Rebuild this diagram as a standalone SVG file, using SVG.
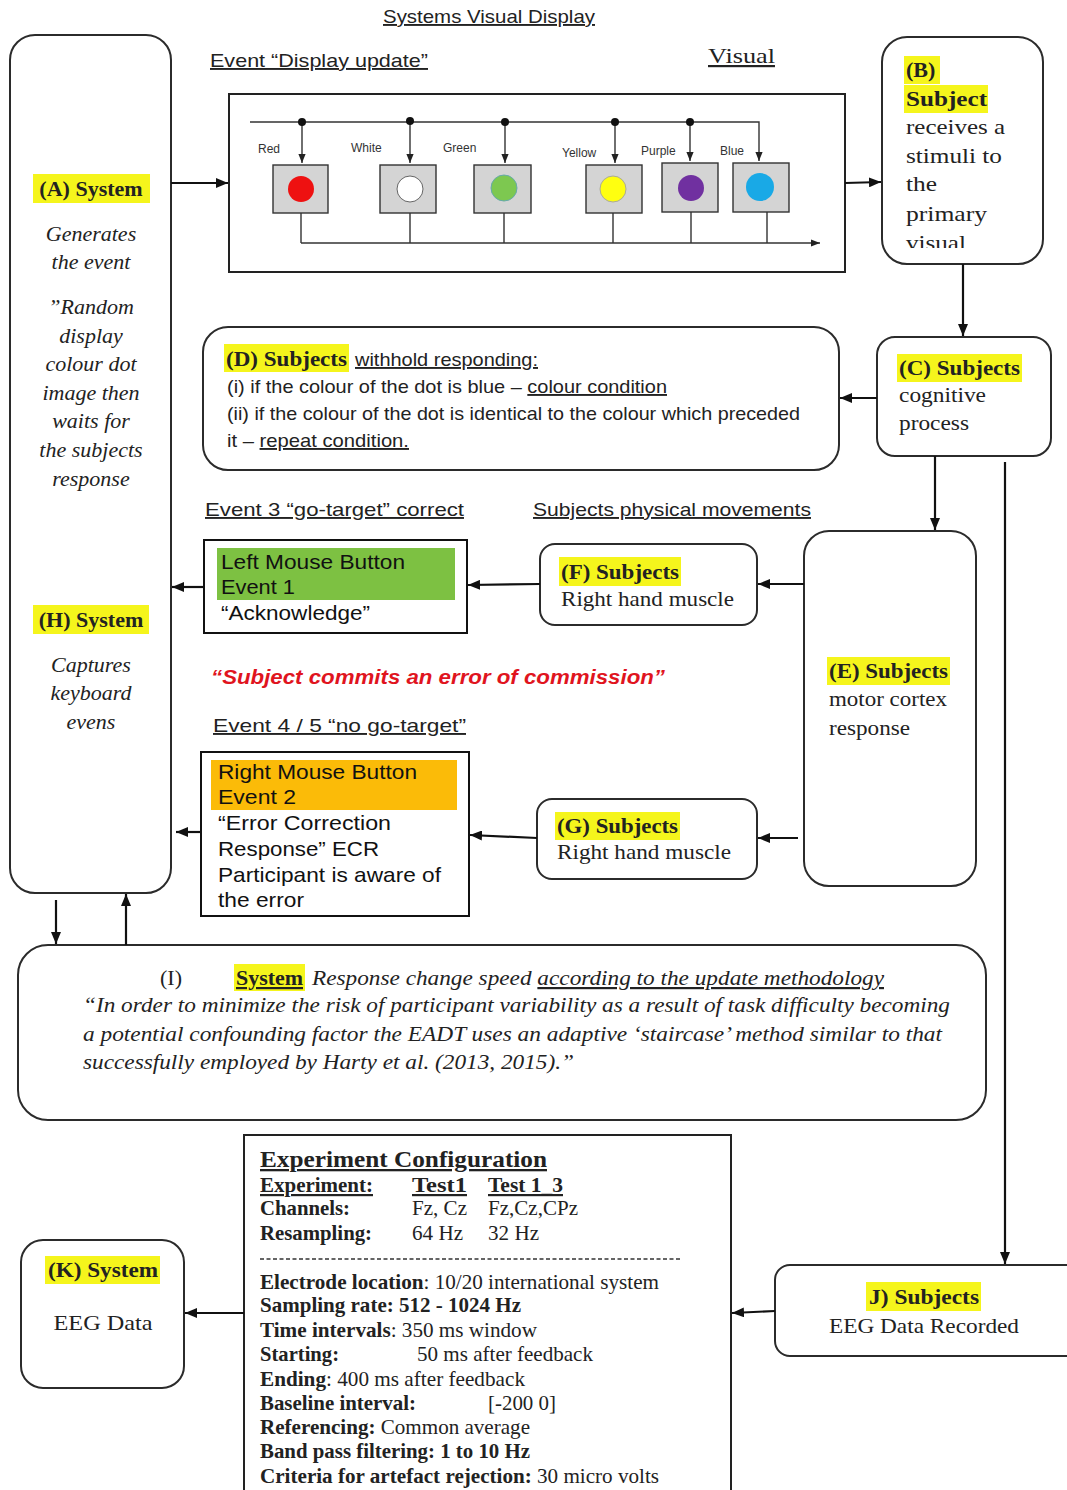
<svg xmlns="http://www.w3.org/2000/svg" width="1067" height="1490" viewBox="0 0 1067 1490">
<style>
.box{fill:#fff;stroke:#2b2b2b;stroke-width:2}
.con{fill:none;stroke:#111;stroke-width:2.2}
.thin{fill:none;stroke:#333;stroke-width:1.4}
.cal{font-family:"Liberation Sans",Arial,sans-serif;font-size:19px;fill:#222}
.ari{font-family:"Liberation Sans",Arial,sans-serif;font-size:21px;fill:#111}
.ser{font-family:"Liberation Serif","Times New Roman",serif;font-size:22px;fill:#222}
.b{font-weight:bold}
.it{font-style:italic}
.u{text-decoration:underline}
.hl{fill:#f5f51c}
.lab{font-family:"Liberation Sans",Arial,sans-serif;font-size:12px;fill:#333}
.cell{fill:#d4d4d4;stroke:#333;stroke-width:1.4}
</style>
<defs>
<marker id="ah" viewBox="0 0 12 10" refX="12" refY="5" markerWidth="12" markerHeight="10" markerUnits="userSpaceOnUse" orient="auto"><path d="M0,0 L12,5 L0,10 z" fill="#111"/></marker>
<marker id="sm" viewBox="0 0 10 8" refX="10" refY="4" markerWidth="9" markerHeight="8" markerUnits="userSpaceOnUse" orient="auto"><path d="M0,0 L10,4 L0,8 z" fill="#222"/></marker>
<clipPath id="clipB"><rect x="883" y="38" width="159" height="210"/></clipPath>
</defs>

<text class="cal u" x="383" y="23" textLength="212" lengthAdjust="spacingAndGlyphs">Systems Visual Display</text>
<text class="cal u" x="210" y="67" textLength="218" lengthAdjust="spacingAndGlyphs">Event “Display update”</text>
<text class="ser u" x="708" y="63" font-size="23" textLength="67" lengthAdjust="spacingAndGlyphs">Visual</text>

<g id="nodeA">
<rect class="box" x="10" y="35" width="161" height="858" rx="25"/>
<rect class="hl" x="33" y="174" width="117" height="29"/>
<text class="ser b" x="91" y="196" text-anchor="middle">(A) System</text>
<g class="ser it" text-anchor="middle" fill="#333" font-size="23">
<text x="91" y="241">Generates</text>
<text x="91" y="269">the event</text>
<text x="91" y="314">”Random</text>
<text x="91" y="343">display</text>
<text x="91" y="371">colour dot</text>
<text x="91" y="400">image then</text>
<text x="91" y="428">waits for</text>
<text x="91" y="457">the subjects</text>
<text x="91" y="486">response</text>
</g>
<rect class="hl" x="33" y="605" width="116" height="29"/>
<text class="ser b" x="91" y="627" text-anchor="middle">(H) System</text>
<g class="ser it" text-anchor="middle" fill="#333" font-size="23">
<text x="91" y="672">Captures</text>
<text x="91" y="700">keyboard</text>
<text x="91" y="729">evens</text>
</g>
</g>

<g id="display">
<rect x="229" y="94" width="616" height="178" fill="#fff" stroke="#222" stroke-width="2"/>
<path class="thin" d="M250,122 H759 V161" marker-end="url(#sm)"/>
<path class="thin" d="M302,122 V163" marker-end="url(#sm)"/>
<path class="thin" d="M410,121 V163" marker-end="url(#sm)"/>
<path class="thin" d="M505,122 V163" marker-end="url(#sm)"/>
<path class="thin" d="M615,122 V163" marker-end="url(#sm)"/>
<path class="thin" d="M690,122 V161" marker-end="url(#sm)"/>
<g fill="#111"><circle cx="302" cy="122" r="4"/><circle cx="410" cy="121" r="4"/><circle cx="505" cy="122" r="4"/><circle cx="615" cy="122" r="4"/><circle cx="690" cy="122" r="4"/></g>
<rect class="cell" x="273" y="165" width="55" height="48"/>
<rect class="cell" x="380" y="165" width="56" height="48"/>
<rect class="cell" x="474" y="165" width="57" height="48"/>
<rect class="cell" x="586" y="165" width="56" height="48"/>
<rect class="cell" x="662" y="163" width="56" height="49"/>
<rect class="cell" x="733" y="163" width="56" height="49"/>
<ellipse cx="301" cy="189" rx="13" ry="13" fill="#ee1111"/>
<ellipse cx="410" cy="189" rx="13" ry="13" fill="#fff" stroke="#666"/>
<ellipse cx="504" cy="188" rx="13" ry="13" fill="#7dc850" stroke="#6aa"/>
<ellipse cx="613" cy="189" rx="13" ry="13" fill="#ffff10" stroke="#aa9"/>
<ellipse cx="691" cy="188" rx="13" ry="13" fill="#7030a0"/>
<ellipse cx="760" cy="187" rx="14" ry="14" fill="#19a9e6"/>
<path class="thin" d="M301,213 V243 M410,213 V243 M504,213 V243 M613,213 V243 M691,212 V243 M767,212 V243"/>
<path class="thin" d="M301,243 H820" marker-end="url(#sm)"/>
<text class="lab" x="258" y="153">Red</text>
<text class="lab" x="351" y="152">White</text>
<text class="lab" x="443" y="152">Green</text>
<text class="lab" x="562" y="157">Yellow</text>
<text class="lab" x="641" y="155">Purple</text>
<text class="lab" x="720" y="155">Blue</text>
</g>

<g id="nodeB">
<rect class="box" x="882" y="37" width="161" height="227" rx="25"/>
<rect class="hl" x="904" y="56" width="36" height="28"/>
<rect class="hl" x="904" y="85" width="84" height="28"/>
<g class="ser" clip-path="url(#clipB)" font-size="24">
<text class="b" x="906" y="77" font-size="22">(B)</text>
<text class="b" x="906" y="106" font-size="22" textLength="81" lengthAdjust="spacingAndGlyphs">Subject</text>
<text x="906" y="134" textLength="99" lengthAdjust="spacingAndGlyphs">receives a</text>
<text x="906" y="163" textLength="96" lengthAdjust="spacingAndGlyphs">stimuli to</text>
<text x="906" y="191" textLength="31" lengthAdjust="spacingAndGlyphs">the</text>
<text x="906" y="221" textLength="81" lengthAdjust="spacingAndGlyphs">primary</text>
<text x="906" y="250" textLength="60" lengthAdjust="spacingAndGlyphs">visual</text>
</g>
</g>

<g id="nodeC">
<rect class="box" x="877" y="337" width="174" height="119" rx="18"/>
<rect class="hl" x="897" y="354" width="125" height="28"/>
<text class="ser b" x="899" y="375" textLength="121" lengthAdjust="spacingAndGlyphs">(C) Subjects</text>
<text class="ser" x="899" y="402" textLength="87" lengthAdjust="spacingAndGlyphs">cognitive</text>
<text class="ser" x="899" y="430" textLength="70" lengthAdjust="spacingAndGlyphs">process</text>
</g>

<g id="nodeD">
<rect class="box" x="203" y="327" width="636" height="143" rx="25"/>
<rect class="hl" x="224" y="344" width="125" height="28"/>
<text class="ser b" x="226" y="366" textLength="121" lengthAdjust="spacingAndGlyphs">(D) Subjects</text>
<text class="cal u" x="355" y="366" textLength="183" lengthAdjust="spacingAndGlyphs">withhold responding:</text>
<text class="cal" x="227" y="393" font-size="18" textLength="440" lengthAdjust="spacingAndGlyphs">(i) if the colour of the dot is blue – <tspan class="u">colour condition</tspan></text>
<text class="cal" x="227" y="420" font-size="18" textLength="573" lengthAdjust="spacingAndGlyphs">(ii) if the colour of the dot is identical to the colour which preceded</text>
<text class="cal" x="227" y="447" font-size="18" textLength="182" lengthAdjust="spacingAndGlyphs">it – <tspan class="u">repeat condition.</tspan></text>
</g>

<text class="cal u" x="205" y="516" textLength="259" lengthAdjust="spacingAndGlyphs">Event 3 “go-target” correct</text>
<text class="cal u" x="533" y="516" textLength="278" lengthAdjust="spacingAndGlyphs">Subjects physical movements</text>

<g id="nodeLMB">
<rect x="204" y="540" width="263" height="93" fill="#fff" stroke="#111" stroke-width="2"/>
<rect x="217" y="548" width="238" height="52" fill="#7dc142"/>
<text class="ari" x="221" y="569" textLength="184" lengthAdjust="spacingAndGlyphs">Left Mouse Button</text>
<text class="ari" x="221" y="594" textLength="74" lengthAdjust="spacingAndGlyphs">Event 1</text>
<text class="ari" x="221" y="620" textLength="149" lengthAdjust="spacingAndGlyphs">“Acknowledge”</text>
</g>

<g id="nodeF">
<rect class="box" x="540" y="544" width="217" height="81" rx="15"/>
<rect class="hl" x="559" y="557" width="122" height="29"/>
<text class="ser b" x="561" y="579" textLength="118" lengthAdjust="spacingAndGlyphs">(F) Subjects</text>
<text class="ser" x="561" y="606" textLength="173" lengthAdjust="spacingAndGlyphs">Right hand muscle</text>
</g>

<g id="nodeE">
<rect class="box" x="804" y="531" width="172" height="355" rx="25"/>
<rect class="hl" x="827" y="657" width="123" height="28"/>
<text class="ser b" x="829" y="678" textLength="119" lengthAdjust="spacingAndGlyphs">(E) Subjects</text>
<text class="ser" x="829" y="706" textLength="118" lengthAdjust="spacingAndGlyphs">motor cortex</text>
<text class="ser" x="829" y="735" textLength="81" lengthAdjust="spacingAndGlyphs">response</text>
</g>

<text x="211" y="684" font-family="Liberation Sans,Arial,sans-serif" font-size="20" font-weight="bold" font-style="italic" fill="#e0141e" textLength="454" lengthAdjust="spacingAndGlyphs">“Subject commits an error of commission”</text>
<text class="cal u" x="213" y="732" textLength="253" lengthAdjust="spacingAndGlyphs">Event 4 / 5  “no go-target”</text>

<g id="nodeRMB">
<rect x="201" y="752" width="268" height="164" fill="#fff" stroke="#111" stroke-width="2"/>
<rect x="211" y="760" width="246" height="50" fill="#fbbb08"/>
<text class="ari" x="218" y="779" textLength="199" lengthAdjust="spacingAndGlyphs">Right Mouse Button</text>
<text class="ari" x="218" y="804" textLength="78" lengthAdjust="spacingAndGlyphs">Event 2</text>
<text class="ari" x="218" y="830" textLength="173" lengthAdjust="spacingAndGlyphs">“Error Correction</text>
<text class="ari" x="218" y="856" textLength="161" lengthAdjust="spacingAndGlyphs">Response” ECR</text>
<text class="ari" x="218" y="882" textLength="223" lengthAdjust="spacingAndGlyphs">Participant is aware of</text>
<text class="ari" x="218" y="907" textLength="86" lengthAdjust="spacingAndGlyphs">the error</text>
</g>

<g id="nodeG">
<rect class="box" x="537" y="799" width="220" height="80" rx="15"/>
<rect class="hl" x="555" y="812" width="125" height="28"/>
<text class="ser b" x="557" y="833" textLength="121" lengthAdjust="spacingAndGlyphs">(G) Subjects</text>
<text class="ser" x="557" y="859" textLength="174" lengthAdjust="spacingAndGlyphs">Right hand muscle</text>
</g>

<g id="nodeI">
<rect class="box" x="18" y="945" width="968" height="175" rx="30"/>
<text class="ser" x="160" y="985">(I)</text>
<rect class="hl" x="234" y="964" width="71" height="27"/>
<text class="ser b u" x="236" y="985" textLength="67" lengthAdjust="spacingAndGlyphs">System</text>
<text class="ser it" x="312" y="985" textLength="572" lengthAdjust="spacingAndGlyphs">Response change speed <tspan class="u">according to the update methodology</tspan></text>
<text class="ser it" x="83" y="1012" textLength="867" lengthAdjust="spacingAndGlyphs">“In order to minimize the risk of participant variability as a result of task difficulty becoming</text>
<text class="ser it" x="83" y="1041" textLength="859" lengthAdjust="spacingAndGlyphs">a potential confounding factor the EADT uses an adaptive ‘staircase’ method similar to that</text>
<text class="ser it" x="83" y="1069" textLength="491" lengthAdjust="spacingAndGlyphs">successfully employed by Harty et al. (2013, 2015).”</text>
</g>

<g id="nodeConfig" class="ser" font-size="19">
<rect x="244" y="1135" width="487" height="365" fill="#fff" stroke="#222" stroke-width="2"/>
<text class="b u" x="260" y="1167" font-size="23" textLength="287" lengthAdjust="spacingAndGlyphs">Experiment Configuration </text>
<text class="b u" x="260" y="1192" textLength="113" lengthAdjust="spacingAndGlyphs">Experiment:</text>
<text class="b u" x="412" y="1192" textLength="55" lengthAdjust="spacingAndGlyphs">Test1</text>
<text class="b u" x="488" y="1192" textLength="75" lengthAdjust="spacingAndGlyphs">Test 1_3</text>
<text class="b" x="260" y="1215" textLength="90" lengthAdjust="spacingAndGlyphs">Channels:</text>
<text x="412" y="1215" textLength="55" lengthAdjust="spacingAndGlyphs">Fz, Cz</text>
<text x="488" y="1215" textLength="90" lengthAdjust="spacingAndGlyphs">Fz,Cz,CPz</text>
<text class="b" x="260" y="1240" textLength="112" lengthAdjust="spacingAndGlyphs">Resampling:</text>
<text x="412" y="1240" textLength="51" lengthAdjust="spacingAndGlyphs">64 Hz</text>
<text x="488" y="1240" textLength="51" lengthAdjust="spacingAndGlyphs">32 Hz</text>
<line x1="260" y1="1259" x2="680" y2="1259" stroke="#333" stroke-width="1.3" stroke-dasharray="4,2.5"/>
<text x="260" y="1289" textLength="399" lengthAdjust="spacingAndGlyphs"><tspan class="b">Electrode location</tspan>: 10/20 international system</text>
<text class="b" x="260" y="1312" textLength="261" lengthAdjust="spacingAndGlyphs">Sampling rate: 512 - 1024 Hz</text>
<text x="260" y="1337" textLength="277" lengthAdjust="spacingAndGlyphs"><tspan class="b">Time intervals</tspan>: 350 ms window</text>
<text class="b" x="260" y="1361" textLength="79" lengthAdjust="spacingAndGlyphs">Starting:</text>
<text x="417" y="1361" textLength="176" lengthAdjust="spacingAndGlyphs">50 ms after feedback</text>
<text x="260" y="1386" textLength="265" lengthAdjust="spacingAndGlyphs"><tspan class="b">Ending</tspan>: 400 ms after feedback</text>
<text class="b" x="260" y="1410" textLength="156" lengthAdjust="spacingAndGlyphs">Baseline interval:</text>
<text x="488" y="1410" textLength="68" lengthAdjust="spacingAndGlyphs">[-200 0]</text>
<text x="260" y="1434" textLength="270" lengthAdjust="spacingAndGlyphs"><tspan class="b">Referencing:</tspan> Common average</text>
<text class="b" x="260" y="1458" textLength="270" lengthAdjust="spacingAndGlyphs">Band pass filtering: 1 to 10 Hz</text>
<text x="260" y="1483" textLength="399" lengthAdjust="spacingAndGlyphs"><tspan class="b">Criteria for artefact rejection:</tspan> 30 micro volts</text>
</g>

<g id="nodeJ">
<rect class="box" x="775" y="1265" width="310" height="91" rx="15"/>
<rect class="hl" x="866" y="1282" width="115" height="29"/>
<text class="ser b" x="924" y="1304" text-anchor="middle" textLength="110" lengthAdjust="spacingAndGlyphs">J) Subjects</text>
<text class="ser" x="924" y="1333" text-anchor="middle" textLength="190" lengthAdjust="spacingAndGlyphs">EEG Data Recorded</text>
</g>

<g id="nodeK">
<rect class="box" x="21" y="1240" width="163" height="148" rx="22"/>
<rect class="hl" x="45" y="1256" width="115" height="28"/>
<text class="ser b" x="103" y="1277" text-anchor="middle" textLength="110" lengthAdjust="spacingAndGlyphs">(K) System</text>
<text class="ser" x="103" y="1330" text-anchor="middle" textLength="99" lengthAdjust="spacingAndGlyphs">EEG Data</text>
</g>

<g id="connectors">
<path class="con" d="M171,183 H228" marker-end="url(#ah)"/>
<path class="con" d="M845,183 L881,182" marker-end="url(#ah)"/>
<path class="con" d="M963,264 V336" marker-end="url(#ah)"/>
<path class="con" d="M877,398 H840" marker-end="url(#ah)"/>
<path class="con" d="M935,456 V530" marker-end="url(#ah)"/>
<path class="con" d="M1005,462 V1264" marker-end="url(#ah)"/>
<path class="con" d="M804,584 H758" marker-end="url(#ah)"/>
<path class="con" d="M540,584 L468,585" marker-end="url(#ah)"/>
<path class="con" d="M204,587 H172" marker-end="url(#ah)"/>
<path class="con" d="M798,838 H758" marker-end="url(#ah)"/>
<path class="con" d="M537,838 L470,835" marker-end="url(#ah)"/>
<path class="con" d="M201,832 H176" marker-end="url(#ah)"/>
<path class="con" d="M56,900 V944" marker-end="url(#ah)"/>
<path class="con" d="M126,945 V894" marker-end="url(#ah)"/>
<path class="con" d="M775,1311 L732,1313" marker-end="url(#ah)"/>
<path class="con" d="M244,1313 H185" marker-end="url(#ah)"/>
</g>
</svg>
